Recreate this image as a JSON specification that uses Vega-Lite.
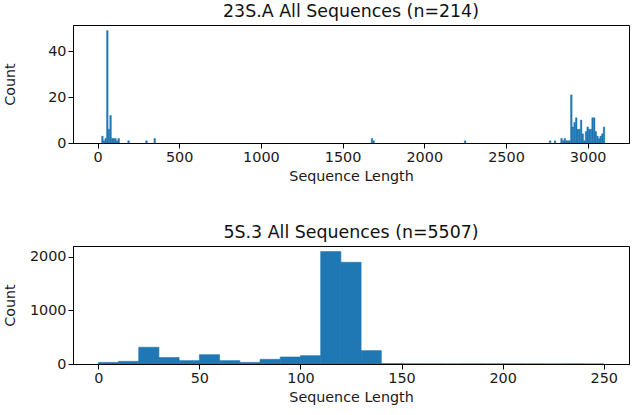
{
  "$schema": "https://vega.github.io/schema/vega-lite/v6.json",
  "background": "white",
  "padding": {"left": 3, "top": 2, "right": 5, "bottom": 3},
  "autosize": {"type": "pad"},
  "datasets": {
    "top": [
      {"start": 25, "end": 35, "count": 3},
      {"start": 35, "end": 45, "count": 1},
      {"start": 45, "end": 55, "count": 2},
      {"start": 55, "end": 65, "count": 49},
      {"start": 65, "end": 75, "count": 6},
      {"start": 75, "end": 85, "count": 12},
      {"start": 85, "end": 95, "count": 2},
      {"start": 95, "end": 105, "count": 2},
      {"start": 105, "end": 115, "count": 2},
      {"start": 115, "end": 125, "count": 1},
      {"start": 125, "end": 135, "count": 2},
      {"start": 185, "end": 195, "count": 1},
      {"start": 295, "end": 305, "count": 1},
      {"start": 345, "end": 355, "count": 2},
      {"start": 1675, "end": 1685, "count": 2},
      {"start": 1685, "end": 1695, "count": 1},
      {"start": 2245, "end": 2255, "count": 1},
      {"start": 2765, "end": 2775, "count": 1},
      {"start": 2795, "end": 2805, "count": 1},
      {"start": 2835, "end": 2845, "count": 2},
      {"start": 2845, "end": 2855, "count": 1},
      {"start": 2855, "end": 2865, "count": 2},
      {"start": 2865, "end": 2875, "count": 1},
      {"start": 2875, "end": 2885, "count": 1},
      {"start": 2885, "end": 2895, "count": 1},
      {"start": 2895, "end": 2905, "count": 21},
      {"start": 2905, "end": 2915, "count": 7},
      {"start": 2915, "end": 2925, "count": 9},
      {"start": 2925, "end": 2935, "count": 11},
      {"start": 2935, "end": 2945, "count": 6},
      {"start": 2945, "end": 2955, "count": 6},
      {"start": 2955, "end": 2965, "count": 10},
      {"start": 2965, "end": 2975, "count": 4},
      {"start": 2975, "end": 2985, "count": 1},
      {"start": 2985, "end": 2995, "count": 5},
      {"start": 2995, "end": 3005, "count": 7},
      {"start": 3005, "end": 3015, "count": 6},
      {"start": 3015, "end": 3025, "count": 6},
      {"start": 3025, "end": 3035, "count": 11},
      {"start": 3035, "end": 3045, "count": 11},
      {"start": 3045, "end": 3055, "count": 5},
      {"start": 3055, "end": 3065, "count": 3},
      {"start": 3065, "end": 3075, "count": 2},
      {"start": 3075, "end": 3085, "count": 3},
      {"start": 3085, "end": 3095, "count": 4},
      {"start": 3095, "end": 3105, "count": 7}
    ],
    "bottom": [
      {"start": 0, "end": 10, "count": 30},
      {"start": 10, "end": 20, "count": 50},
      {"start": 20, "end": 30, "count": 313},
      {"start": 30, "end": 40, "count": 120},
      {"start": 40, "end": 50, "count": 63},
      {"start": 50, "end": 60, "count": 175},
      {"start": 60, "end": 70, "count": 63},
      {"start": 70, "end": 80, "count": 30},
      {"start": 80, "end": 90, "count": 88},
      {"start": 90, "end": 100, "count": 131},
      {"start": 100, "end": 110, "count": 156},
      {"start": 110, "end": 120, "count": 2100},
      {"start": 120, "end": 130, "count": 1901},
      {"start": 130, "end": 140, "count": 250},
      {"start": 140, "end": 150, "count": 8},
      {"start": 150, "end": 160, "count": 5},
      {"start": 160, "end": 170, "count": 4},
      {"start": 170, "end": 180, "count": 3},
      {"start": 180, "end": 190, "count": 4},
      {"start": 190, "end": 200, "count": 3},
      {"start": 200, "end": 210, "count": 4},
      {"start": 210, "end": 220, "count": 3},
      {"start": 220, "end": 230, "count": 2},
      {"start": 230, "end": 240, "count": 3},
      {"start": 240, "end": 250, "count": 2}
    ]
  },
  "config": {
    "font": "DejaVu Sans",
    "view": {"stroke": "black", "strokeWidth": 1},
    "axis": {
      "grid": false,
      "domainColor": "black",
      "tickColor": "black",
      "tickSize": 5,
      "labelFontSize": 14.4,
      "titleFontSize": 14.3,
      "labelColor": "#1a1a1a",
      "titleColor": "#1a1a1a",
      "titleFontWeight": "normal",
      "labelPadding": 2,
      "format": "d"
    },
    "axisY": {"titleX": -62.5, "titleBaseline": "middle"},
    "axisX": {"titlePadding": 6},
    "title": {"fontSize": 17.4, "fontWeight": "normal", "color": "#111", "offset": 5}
  },
  "vconcat": [
    {
      "title": "23S.A All Sequences (n=214)",
      "width": 556,
      "height": 118,
      "data": {"name": "top"},
      "mark": {"type": "bar", "color": "#1f77b4", "stroke": "#1f77b4", "strokeWidth": 0.4, "clip": true},
      "encoding": {
        "x": {"field": "start", "type": "quantitative", "title": "Sequence Length",
              "scale": {"domain": [-150, 3253], "nice": false, "zero": false},
              "axis": {"values": [0, 500, 1000, 1500, 2000, 2500, 3000]}},
        "x2": {"field": "end"},
        "y": {"field": "count", "type": "quantitative", "title": "Count",
              "scale": {"domain": [0, 51.45], "nice": false},
              "axis": {"values": [0, 20, 40]}},
        "y2": {"datum": 0}
      }
    },
    {
      "title": "5S.3 All Sequences (n=5507)",
      "width": 556,
      "height": 118,
      "data": {"name": "bottom"},
      "mark": {"type": "bar", "color": "#1f77b4", "stroke": "#1f77b4", "strokeWidth": 0.6, "clip": true},
      "encoding": {
        "x": {"field": "start", "type": "quantitative", "title": "Sequence Length",
              "scale": {"domain": [-12.5, 262.5], "nice": false, "zero": false},
              "axis": {"values": [0, 50, 100, 150, 200, 250]}},
        "x2": {"field": "end"},
        "y": {"field": "count", "type": "quantitative", "title": "Count",
              "scale": {"domain": [0, 2205], "nice": false},
              "axis": {"values": [0, 1000, 2000]}},
        "y2": {"datum": 0}
      }
    }
  ],
  "spacing": 38
}
